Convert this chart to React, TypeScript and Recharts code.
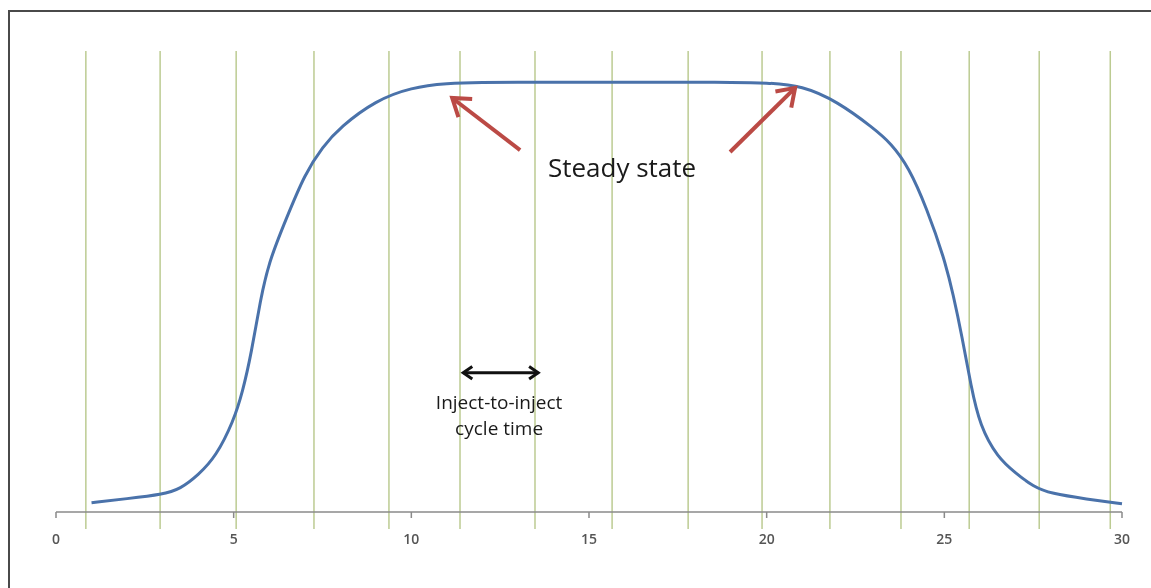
import React from "react";
import {
  LineChart,
  Line,
  XAxis,
  YAxis,
  ReferenceLine,
  ReferenceDot,
} from "recharts";

// curve (time vs. response)
const times = [1, 2, 3, 3.5, 4, 4.5, 5, 5.25, 5.5, 5.75, 6, 6.5, 7, 7.5, 8, 9, 10, 11, 12, 13, 14, 15, 16, 17, 18, 19, 20, 21, 22, 23, 23.5, 24, 24.5, 25, 25.25, 25.5, 25.75, 26, 26.5, 27, 27.5, 28, 29, 30];
const response = [2.0, 2.9, 3.8, 5.0, 8.0, 12.0, 19.8, 26.0, 34.5, 46.0, 54.5, 64.0, 73.3, 79.2, 83.5, 89.3, 92.1, 93.0, 93.2, 93.2, 93.2, 93.2, 93.2, 93.2, 93.2, 93.2, 93.1, 92.5, 89.0, 83.3, 80.0, 74.8, 66.0, 55.0, 47.2, 38.0, 27.3, 18.7, 11.8, 8.5, 5.5, 4.0, 2.8, 1.8];

// injection markers (green lines)
const injections = [0.84, 2.93, 5.07, 7.26, 9.37, 11.37, 13.48, 15.65, 17.79, 19.87, 21.78, 23.78, 25.7, 27.67, 29.67];

const xTicks = [0, 5, 10, 15, 20, 25, 30];

const data = times.map((t, i) => ({ t, v: response[i] }));

// arrow shape for ReferenceLine segments
const arrow = (color: string, width: number, head: number, both: boolean) => (p: any) => {
  const { x1, y1, x2, y2 } = p;
  const ang = Math.atan2(y2 - y1, x2 - x1);
  const chev = (x: number, y: number, a: number) => {
    const ax = x - head * Math.cos(a - 0.6);
    const ay = y - head * Math.sin(a - 0.6);
    const bx = x - head * Math.cos(a + 0.6);
    const by = y - head * Math.sin(a + 0.6);
    return `${ax},${ay} ${x},${y} ${bx},${by}`;
  };
  return (
    <g>
      <line x1={x1} y1={y1} x2={x2} y2={y2} stroke={color} strokeWidth={width} />
      <polyline points={chev(x2, y2, ang)} fill="none" stroke={color} strokeWidth={width} strokeLinejoin="miter" />
      {both && (
        <polyline points={chev(x1, y1, ang + Math.PI)} fill="none" stroke={color} strokeWidth={width} strokeLinejoin="miter" />
      )}
    </g>
  );
};

const label = (text: string, size: number) => (p: any) => (
  <text x={p.cx} y={p.cy} textAnchor="middle" dominantBaseline="central" fontSize={size} fill="#1a1a1a" fontFamily="'Open Sans', sans-serif">
    {text}
  </text>
);

const App = () => {
  return (
    <div style={{ position: "relative", width: 1135, height: 580, background: "#fff" }}>
      {/* frame: only top and left edges are visible */}
      <div
        style={{
          position: "fixed",
          left: 8,
          top: 10,
          right: -20,
          bottom: -20,
          borderTop: "2px solid #4a4a4a",
          borderLeft: "2px solid #4a4a4a",
          pointerEvents: "none",
        }}
      />
      <LineChart
        width={1135}
        height={580}
        data={data}
        margin={{ top: 43, right: 21, bottom: 46, left: 48 }}
        style={{ position: "absolute", left: 0, top: 0 }}
      >
        <XAxis
          dataKey="t"
          type="number"
          domain={[0, 30]}
          ticks={xTicks}
          stroke="#8a8a8a"
          strokeWidth={1.5}
          tickSize={6}
          tickMargin={16}
          tick={{ fill: "#555", fontSize: 14, fontWeight: 600, fontFamily: "'Open Sans', sans-serif" }}
        />
        <YAxis hide type="number" domain={[0, 100]} />
        {injections.map((x) => (
          <ReferenceLine
            key={x}
            segment={[{ x, y: 100 }, { x, y: -3.7 }]}
            stroke="#bccb92"
            strokeWidth={1.5}
            ifOverflow="visible"
          />
        ))}
        <Line
          type="basis"
          dataKey="v"
          stroke="#4a72aa"
          strokeWidth={3}
          dot={false}
          isAnimationActive={false}
        />
        <ReferenceLine
          segment={[{ x: 13.06, y: 78.5 }, { x: 11.15, y: 89.8 }]}
          ifOverflow="visible"
          shape={arrow("#bb4a45", 4, 20, false)}
        />
        <ReferenceLine
          segment={[{ x: 18.97, y: 78.1 }, { x: 20.8, y: 92.0 }]}
          ifOverflow="visible"
          shape={arrow("#bb4a45", 4, 20, false)}
        />
        <ReferenceLine
          segment={[{ x: 11.46, y: 30.2 }, { x: 13.57, y: 30.2 }]}
          ifOverflow="visible"
          shape={arrow("#111", 3, 11, true)}
        />
        <ReferenceDot x={15.93} y={74.8} r={0} ifOverflow="visible" shape={label("Steady state", 26)} />
        <ReferenceDot x={12.47} y={23.9} r={0} ifOverflow="visible" shape={label("Inject-to-inject", 19)} />
        <ReferenceDot x={12.47} y={18.2} r={0} ifOverflow="visible" shape={label("cycle time", 19)} />
      </LineChart>
    </div>
  );
};

export default App;
